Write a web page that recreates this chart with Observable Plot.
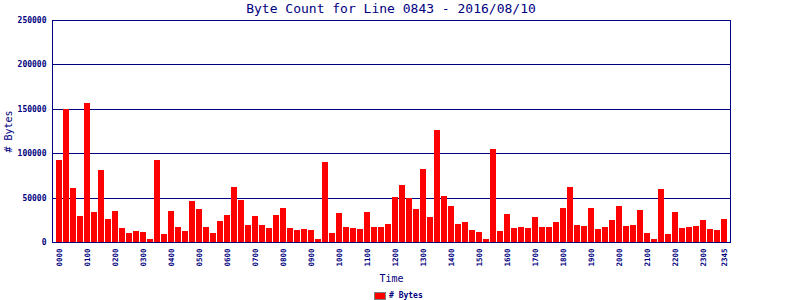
<!DOCTYPE html>
<html><head><meta charset="utf-8">
<script src="https://cdn.jsdelivr.net/npm/d3@7"></script>
<script src="https://cdn.jsdelivr.net/npm/@observablehq/plot@0.6"></script>
<style>
body{margin:0;background:#fff;}
#wrap{position:relative;width:800px;height:300px;overflow:hidden;font-family:"DejaVu Sans Mono",monospace;color:#000080;}
#title{position:absolute;left:0;top:1px;width:782px;text-align:center;font-size:13px;line-height:16px;white-space:nowrap;}
#chart{position:absolute;left:0;top:0;}
#legend{position:absolute;left:374px;top:291px;height:10px;font-size:8px;font-weight:bold;line-height:10px;display:flex;align-items:center;white-space:nowrap;}
#legend .sw{width:10px;height:6px;background:#ff0000;border:1px solid #808080;margin-right:3px;}
</style>
</head>
<body>
<div id="wrap">
  <div id="chart"></div>
  <div id="title"></div>
  <div id="legend"><span class="sw"></span><span id="legendText"></span></div>
</div>
<script>
const titleText = "Byte Count for Line 0843 - 2016/08/10";
const seriesName = "# Bytes";
const xLabel = "Time";
const yLabel = "# Bytes";

const times = [
"0000","0015","0030","0045","0100","0115","0130","0145","0200","0215","0230","0245",
"0300","0315","0330","0345","0400","0415","0430","0445","0500","0515","0530","0545",
"0600","0615","0630","0645","0700","0715","0730","0745","0800","0815","0830","0845",
"0900","0915","0930","0945","1000","1015","1030","1045","1100","1115","1130","1145",
"1200","1215","1230","1245","1300","1315","1330","1345","1400","1415","1430","1445",
"1500","1515","1530","1545","1600","1615","1630","1645","1700","1715","1730","1745",
"1800","1815","1830","1845","1900","1915","1930","1945","2000","2015","2030","2045",
"2100","2115","2130","2145","2200","2215","2230","2245","2300","2315","2330","2345"
];

const bytes = [
92500,149600,60900,29300,156750,33800,81200,25900,35000,15800,10150,12400,
11300,3400,92500,9000,35000,16900,12400,46200,37200,16900,10150,23700,
30400,62000,47400,19200,29300,19200,15800,30400,38300,15800,13500,14700,
13500,3400,90200,10150,32700,16900,15800,14700,33800,16900,16900,20300,
50700,64300,49600,37200,82300,28200,126300,51900,40600,20300,22600,13500,
11300,3400,104900,12400,31600,15800,16900,15800,28200,16900,16900,22600,
38300,62000,19200,18000,38300,14700,16900,24800,40600,18000,19200,36100,
10150,3400,59800,9000,33800,15800,16900,18000,24800,14700,13500,25900
];

const xTickLabels = ["0000","0100","0200","0300","0400","0500","0600","0700","0800","0900","1000","1100",
"1200","1300","1400","1500","1600","1700","1800","1900","2000","2100","2200","2300","2345"];
const yTicks = [0,50000,100000,150000,200000,250000];
const gridValues = [50000,100000,150000,200000];

const navy = "#000080";
const data = times.map((t, i) => ({time: t, bytes: bytes[i]}));

document.getElementById("title").textContent = titleText;
document.getElementById("legendText").textContent = seriesName;

const chart = Plot.plot({
  width: 800, height: 285,
  marginLeft: 52, marginRight: 70, marginTop: 20, marginBottom: 43,
  style: {background: "transparent", fontFamily: "'DejaVu Sans Mono', monospace", color: navy, overflow: "visible"},
  x: {type: "band", domain: times, paddingInner: 1/7, paddingOuter: 0.5, align: 4/7},
  y: {domain: [0, 250000]},
  marks: [
    Plot.ruleY(gridValues, {stroke: navy, strokeWidth: 1, shapeRendering: "crispEdges"}),
    Plot.barY(data, {x: "time", y: "bytes", fill: "#ff0000", shapeRendering: "crispEdges"}),
    Plot.frame({stroke: navy, shapeRendering: "crispEdges"}),
    Plot.axisY({ticks: yTicks, tickSize: 0, tickPadding: 6, tickFormat: d => String(d),
      fontSize: 8, fontWeight: "bold", fill: navy, label: null}),
    Plot.axisX({ticks: xTickLabels, tickSize: 0, tickPadding: 6, tickRotate: -90,
      fontSize: 7.5, fontWeight: "bold", fill: navy, label: null}),
    Plot.text([xLabel], {text: d => d, frameAnchor: "bottom", dy: 36, lineAnchor: "middle", textAnchor: "middle", fontSize: 10, fill: navy}),
    Plot.text([yLabel], {text: d => d, frameAnchor: "left", dx: -44, rotate: -90, textAnchor: "middle", lineAnchor: "middle", fontSize: 10, fill: navy})
  ]
});
document.getElementById("chart").appendChild(chart);
</script>
</body></html>
